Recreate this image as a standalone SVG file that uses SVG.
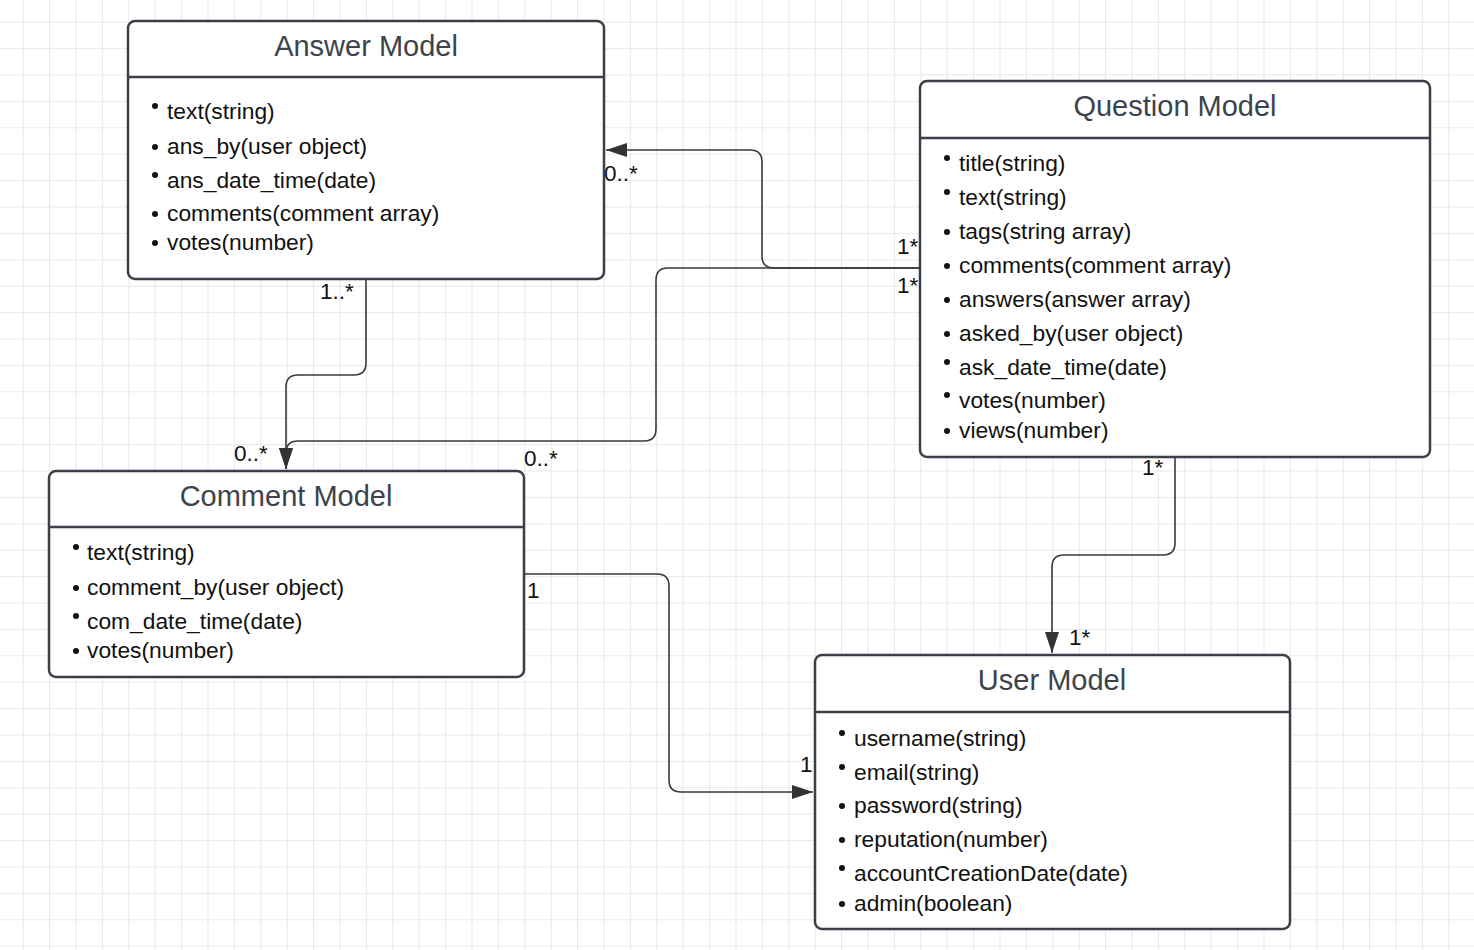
<svg xmlns="http://www.w3.org/2000/svg" width="1474" height="950" viewBox="0 0 1474 950">
<defs>
<pattern id="grid" patternUnits="userSpaceOnUse" x="22.7" y="21.7" width="26.4" height="26.4">
<path d="M0 0.5 H26.4 M0.5 0 V26.4" fill="none" stroke="#e8e8e8" stroke-width="1"/>
</pattern>
<marker id="arr" markerUnits="userSpaceOnUse" markerWidth="24" markerHeight="16" refX="21" refY="7" orient="auto">
<path d="M0 0 L21 7 L0 14 Z" fill="#333"/>
</marker>
<style>
.box{fill:#fff;stroke:#3b3f47;stroke-width:2.5}
.sep{stroke:#3b3f47;stroke-width:2.5}
.title{font-family:"Liberation Sans",Arial,sans-serif;font-size:29px;fill:#3d434c;text-anchor:middle}
.attr{font-family:"Liberation Sans",Arial,sans-serif;font-size:22.8px;fill:#111}
.lbl{font-family:"Liberation Sans",Arial,sans-serif;font-size:22.5px;fill:#111}
.bul{fill:#111}
.conn{fill:none;stroke:#3a3a3a;stroke-width:1.6}
</style>
</defs>
<rect width="1474" height="950" fill="#fff"/>
<rect width="1474" height="950" fill="url(#grid)"/>

<g id="connectors">
<path class="conn" d="M920,268 H774 Q762,268 762,256 V162 Q762,150 750,150 H606" marker-end="url(#arr)"/>
<path class="conn" d="M920,268 H668 Q656,268 656,280 V429 Q656,441 644,441 H298 Q286,441 286,453 V469" marker-end="url(#arr)"/>
<path class="conn" d="M366,279 V363 Q366,375 354,375 H298 Q286,375 286,387 V469" marker-end="url(#arr)"/>
<path class="conn" d="M524,574 H657 Q669,574 669,586 V780 Q669,792 681,792 H813" marker-end="url(#arr)"/>
<path class="conn" d="M1175,457 V543 Q1175,555 1163,555 H1064 Q1052,555 1052,567 V653" marker-end="url(#arr)"/>
<text class="lbl" x="604" y="181">0..*</text>
<text class="lbl" x="897" y="254">1*</text>
<text class="lbl" x="897" y="293">1*</text>
<text class="lbl" x="320" y="299">1..*</text>
<text class="lbl" x="234" y="461">0..*</text>
<text class="lbl" x="524" y="466">0..*</text>
<text class="lbl" x="527" y="598">1</text>
<text class="lbl" x="800" y="772">1</text>
<text class="lbl" x="1142" y="475">1*</text>
<text class="lbl" x="1069" y="645">1*</text>
</g>

<g id="answer-model">
<rect class="box" x="128" y="21" width="476" height="258" rx="7"/>
<line class="sep" x1="128" y1="77" x2="604" y2="77"/>
<text class="title" x="366" y="56">Answer Model</text>
<circle class="bul" cx="155" cy="106" r="3"/><text class="attr" x="167" y="119">text(string)</text>
<circle class="bul" cx="155" cy="147" r="3"/><text class="attr" x="167" y="154">ans_by(user object)</text>
<circle class="bul" cx="155" cy="175" r="3"/><text class="attr" x="167" y="188">ans_date_time(date)</text>
<circle class="bul" cx="155" cy="214" r="3"/><text class="attr" x="167" y="221">comments(comment array)</text>
<circle class="bul" cx="155" cy="243" r="3"/><text class="attr" x="167" y="250">votes(number)</text>
</g>

<g id="question-model">
<rect class="box" x="920" y="81" width="510" height="376" rx="7"/>
<line class="sep" x1="920" y1="138" x2="1430" y2="138"/>
<text class="title" x="1175" y="116">Question Model</text>
<circle class="bul" cx="947" cy="158" r="3"/><text class="attr" x="959" y="171">title(string)</text>
<circle class="bul" cx="947" cy="192" r="3"/><text class="attr" x="959" y="205">text(string)</text>
<circle class="bul" cx="947" cy="232" r="3"/><text class="attr" x="959" y="239">tags(string array)</text>
<circle class="bul" cx="947" cy="266" r="3"/><text class="attr" x="959" y="273">comments(comment array)</text>
<circle class="bul" cx="947" cy="300" r="3"/><text class="attr" x="959" y="307">answers(answer array)</text>
<circle class="bul" cx="947" cy="334" r="3"/><text class="attr" x="959" y="341">asked_by(user object)</text>
<circle class="bul" cx="947" cy="362" r="3"/><text class="attr" x="959" y="375">ask_date_time(date)</text>
<circle class="bul" cx="947" cy="395" r="3"/><text class="attr" x="959" y="408">votes(number)</text>
<circle class="bul" cx="947" cy="431" r="3"/><text class="attr" x="959" y="438">views(number)</text>
</g>

<g id="comment-model">
<rect class="box" x="49" y="471" width="475" height="206" rx="7"/>
<line class="sep" x1="49" y1="527" x2="524" y2="527"/>
<text class="title" x="286" y="506">Comment Model</text>
<circle class="bul" cx="76" cy="547" r="3"/><text class="attr" x="87" y="560">text(string)</text>
<circle class="bul" cx="76" cy="588" r="3"/><text class="attr" x="87" y="595">comment_by(user object)</text>
<circle class="bul" cx="76" cy="616" r="3"/><text class="attr" x="87" y="629">com_date_time(date)</text>
<circle class="bul" cx="76" cy="651" r="3"/><text class="attr" x="87" y="658">votes(number)</text>
</g>

<g id="user-model">
<rect class="box" x="815" y="655" width="475" height="274" rx="7"/>
<line class="sep" x1="815" y1="712" x2="1290" y2="712"/>
<text class="title" x="1052" y="690">User Model</text>
<circle class="bul" cx="842" cy="733" r="3"/><text class="attr" x="854" y="746">username(string)</text>
<circle class="bul" cx="842" cy="767" r="3"/><text class="attr" x="854" y="780">email(string)</text>
<circle class="bul" cx="842" cy="806" r="3"/><text class="attr" x="854" y="813">password(string)</text>
<circle class="bul" cx="842" cy="840" r="3"/><text class="attr" x="854" y="847">reputation(number)</text>
<circle class="bul" cx="842" cy="868" r="3"/><text class="attr" x="854" y="881">accountCreationDate(date)</text>
<circle class="bul" cx="842" cy="904" r="3"/><text class="attr" x="854" y="911">admin(boolean)</text>
</g>
</svg>
